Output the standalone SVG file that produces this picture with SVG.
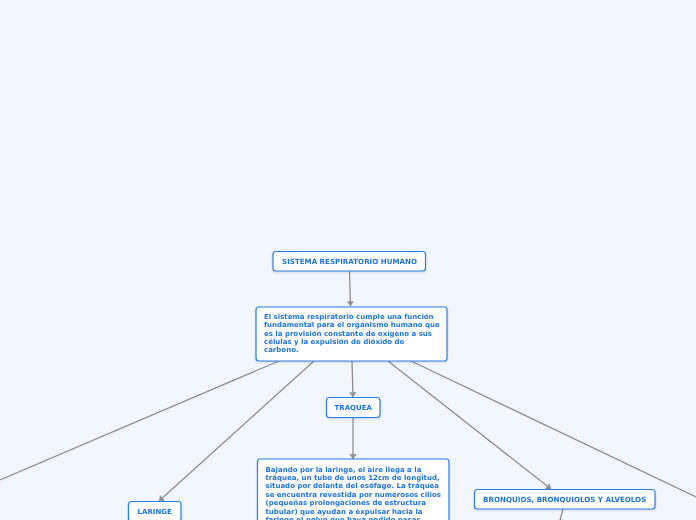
<svg xmlns="http://www.w3.org/2000/svg" width="696" height="520" viewBox="0 0 696 520">
<style>
.bg{fill:#f2f6fe}
.node rect{fill:#ffffff;stroke:#2d7fe3;stroke-width:1.2}
.node text{font-family:"DejaVu Sans",Verdana,sans-serif;font-weight:bold;font-size:7px;fill:#1f74de}
.title{text-anchor:middle}
.conn line{stroke:#8b8e95;stroke-width:1.3;fill:none}
</style>
<defs>
<marker id="arr" viewBox="0 0 5 8" refX="5" refY="4" markerWidth="5" markerHeight="7.5" orient="auto" markerUnits="userSpaceOnUse">
<path d="M0,0 L5,4 L0,8 Z" fill="#8b8e95"/>
</marker>
<filter id="sh" x="-10%" y="-10%" width="120%" height="140%">
<feDropShadow dx="0" dy="1" stdDeviation="0.8" flood-color="#000" flood-opacity="0.15"/>
</filter>
</defs>
<rect class="bg" x="0" y="0" width="696" height="520"/>
<g id="connectors" class="conn">
<line x1="349.5" y1="271" x2="350.5" y2="306" marker-end="url(#arr)"/>
<line x1="352" y1="361" x2="353" y2="397" marker-end="url(#arr)"/>
<line x1="353" y1="417" x2="353" y2="459" marker-end="url(#arr)"/>
<line x1="314" y1="361" x2="159" y2="501" marker-end="url(#arr)"/>
<line x1="279" y1="361" x2="0" y2="480"/>
<line x1="388" y1="361" x2="551" y2="489" marker-end="url(#arr)"/>
<line x1="411" y1="361" x2="696" y2="497"/>
<line x1="563" y1="509" x2="560" y2="520"/>
</g>
<g id="node-sistema" class="node" filter="url(#sh)">
<rect x="273" y="251.5" width="152.5" height="19.5" rx="3"/>
<text class="title" x="349.5" y="264" style="font-size:7.1px">SISTEMA RESPIRATORIO HUMANO</text>
</g>
<g id="node-definicion" class="node" filter="url(#sh)">
<rect x="256" y="307" width="191" height="54" rx="3"/>
<text x="264" y="319">El sistema respiratorio cumple una función</text>
<text x="264" y="327.3">fundamental para el organismo humano que</text>
<text x="264" y="335.6">es la provisión constante de oxígeno a sus</text>
<text x="264" y="343.9">células y la expulsión de dióxido de</text>
<text x="264" y="352.2">carbono.</text>
</g>
<g id="node-traquea" class="node" filter="url(#sh)">
<rect x="326.5" y="397.5" width="53.5" height="20" rx="3"/>
<text class="title" x="353.2" y="410">TRAQUEA</text>
</g>
<g id="node-traquea-desc" class="node" filter="url(#sh)">
<rect x="257.5" y="459" width="191.5" height="80" rx="3"/>
<text x="265.5" y="471.5">Bajando por la laringe, el aire llega a la</text>
<text x="265.5" y="479.9">tráquea, un tubo de unos 12cm de longitud,</text>
<text x="265.5" y="488.3">situado por delante del esófago. La tráquea</text>
<text x="265.5" y="496.7">se encuentra revestida por numerosos cilios</text>
<text x="265.5" y="505.1">(pequeñas prolongaciones de estructura</text>
<text x="265.5" y="513.5">tubular) que ayudan a expulsar hacia la</text>
<text x="265.5" y="521.9">faringe el polvo que haya podido pasar</text>
</g>
<g id="node-laringe" class="node" filter="url(#sh)">
<rect x="128.5" y="501.5" width="52.5" height="20" rx="3"/>
<text class="title" x="154.7" y="514">LARINGE</text>
</g>
<g id="node-bronquios" class="node" filter="url(#sh)">
<rect x="474.5" y="489.5" width="180.5" height="19.5" rx="3"/>
<text class="title" x="564.7" y="502" style="font-size:7.1px">BRONQUIOS, BRONQUIOLOS Y ALVEOLOS</text>
</g>
</svg>
